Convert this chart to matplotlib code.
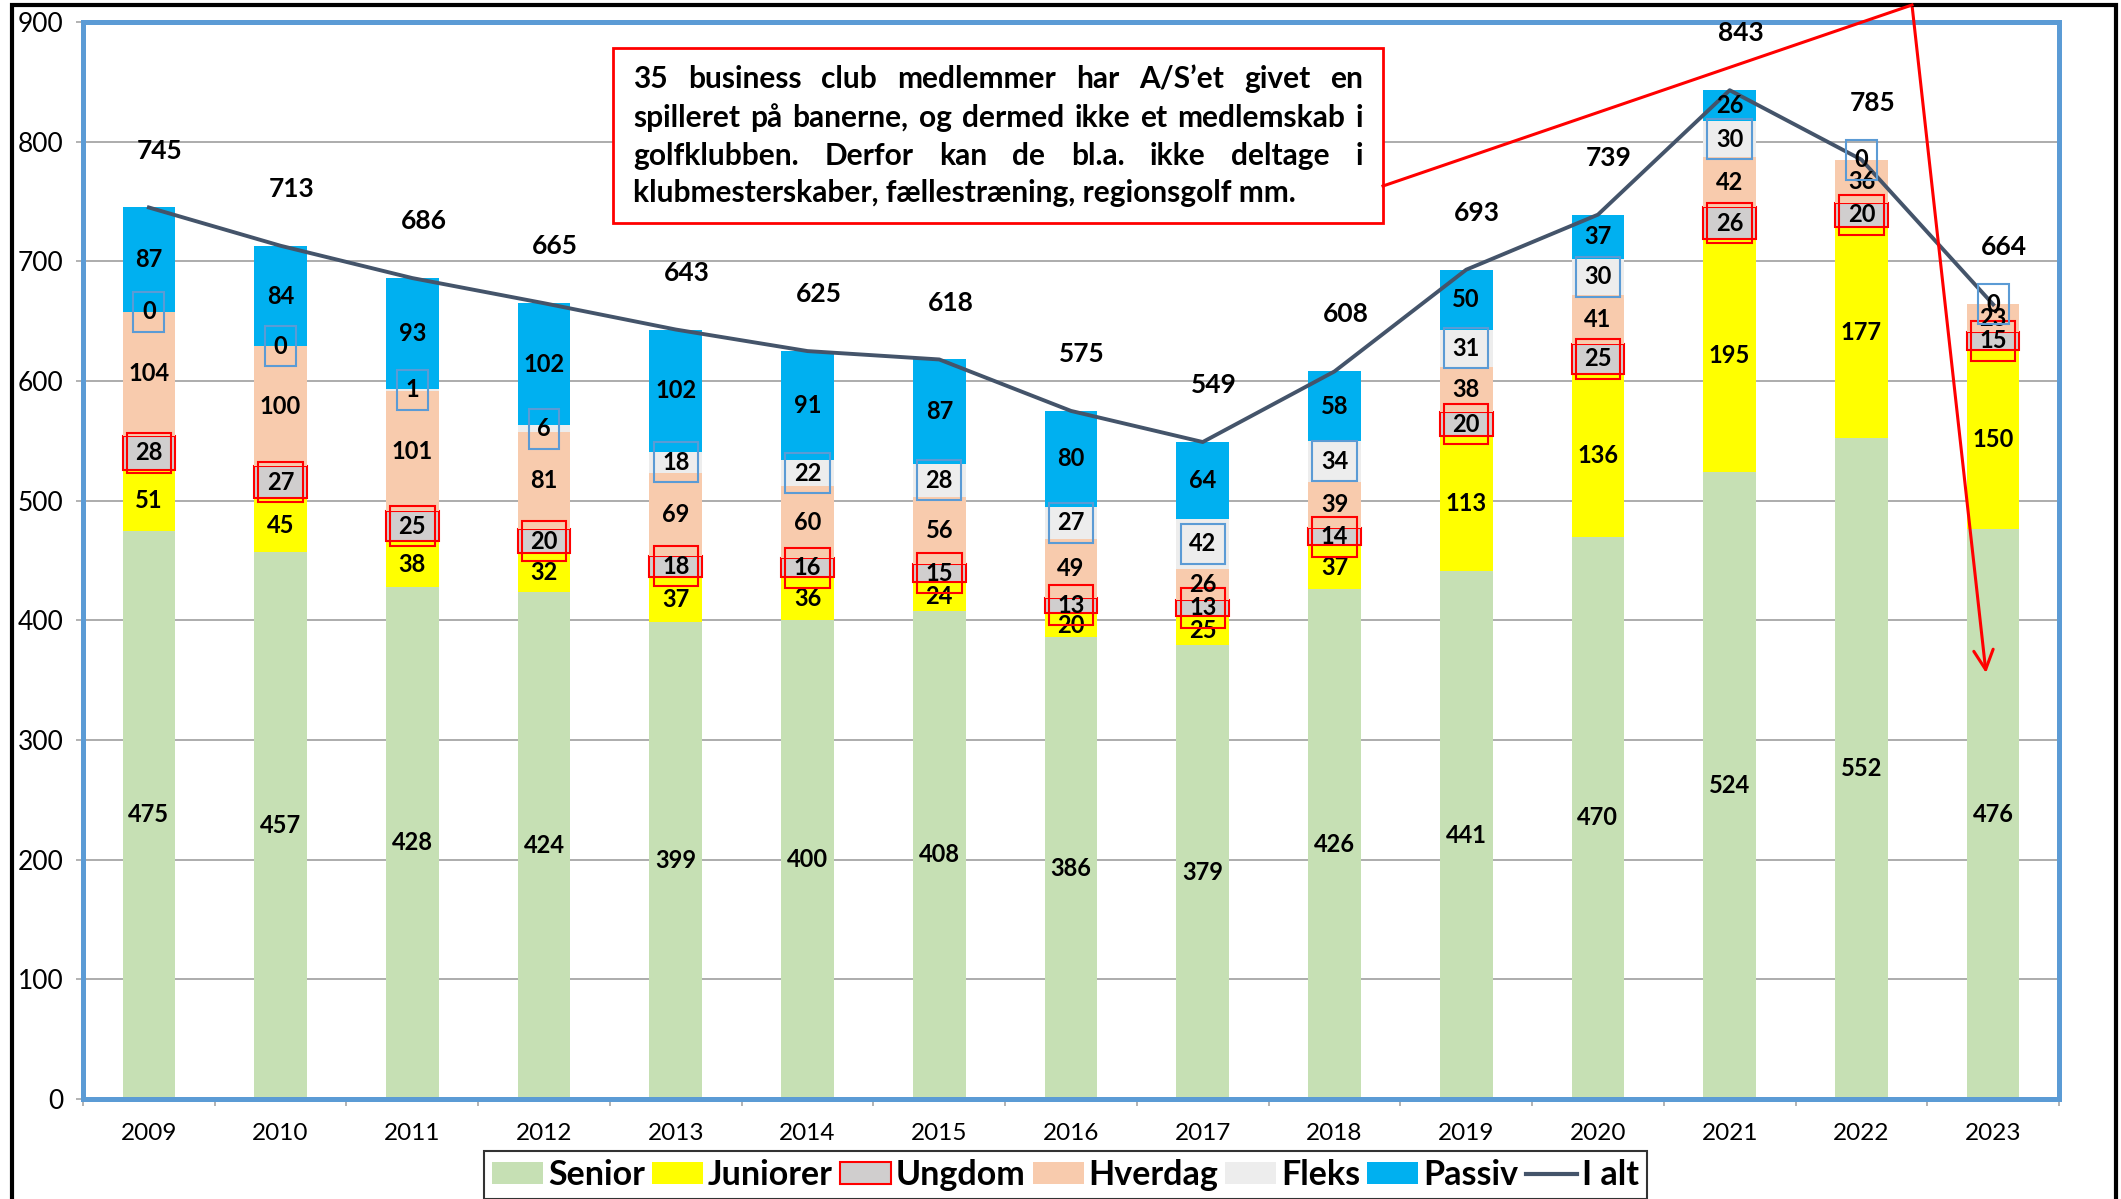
import numpy as np
import matplotlib.pyplot as plt
from matplotlib.patches import Rectangle, Patch
from matplotlib.lines import Line2D

years = ['2009', '2010', '2011', '2012', '2013', '2014', '2015', '2016',
         '2017', '2018', '2019', '2020', '2021', '2022', '2023']
senior = [475, 457, 428, 424, 399, 400, 408, 386, 379, 426, 441, 470, 524, 552, 476]
juniorer = [51, 45, 38, 32, 37, 36, 24, 20, 25, 37, 113, 136, 195, 177, 150]
ungdom = [28, 27, 25, 20, 18, 16, 15, 13, 13, 14, 20, 25, 26, 20, 15]
hverdag = [104, 100, 101, 81, 69, 60, 56, 49, 26, 39, 38, 41, 42, 36, 23]
fleks = [0, 0, 1, 6, 18, 22, 28, 27, 42, 34, 31, 30, 30, 0, 0]
passiv = [87, 84, 93, 102, 102, 91, 87, 80, 64, 58, 50, 37, 26, 0, 0]
i_alt = [745, 713, 686, 665, 643, 625, 618, 575, 549, 608, 693, 739, 843, 785, 664]

note_lines = [
    '35 business club medlemmer har A/S\u2019et givet en',
    'spilleret p\u00e5 banerne, og dermed ikke et medlemskab i',
    'golfklubben. Derfor kan de bl.a. ikke deltage i',
    'klubmesterskaber, f\u00e6llestr\u00e6ning, regionsgolf mm.',
]

plt.rcParams['font.family'] = ['Lato', 'DejaVu Sans']

W, H = 2121, 1199
fig = plt.figure(figsize=(W / 100, H / 100), dpi=100)
ax = fig.add_axes([83 / W, 1 - 1099 / H, (2059 - 83) / W, (1099 - 22) / H])

x = np.arange(len(years))
bw = 0.40
series = [
    ('Senior', senior, '#C6E0B4'),
    ('Juniorer', juniorer, '#FFFF00'),
    ('Ungdom', ungdom, '#D0CECE'),
    ('Hverdag', hverdag, '#F8CBAD'),
    ('Fleks', fleks, '#EDEDED'),
    ('Passiv', passiv, '#00B0F0'),
]

bottom = np.zeros(len(years))
for name, vals, col in series:
    vals = np.array(vals)
    if name == 'Ungdom':
        ax.bar(x, vals, bw, bottom=bottom, color=col, edgecolor='#FF0000', lw=1.5, zorder=2)
    else:
        ax.bar(x, vals, bw, bottom=bottom, color=col, zorder=2)
    for i, v in enumerate(vals):
        if name == 'Passiv' and v == 0:
            continue
        box = None
        if name == 'Ungdom':
            box = dict(boxstyle='square,pad=0.36', fc='none', ec='#FF0000', lw=1.5)
        elif name == 'Fleks':
            box = dict(boxstyle='square,pad=0.36', fc='none', ec='#5B9BD5', lw=1.5)
        ax.text(x[i], bottom[i] + v / 2, str(v), ha='center', va='center',
                fontsize=17, fontweight='bold', bbox=box, zorder=5)
    bottom += vals

ax.plot(x, i_alt, color='#44546A', lw=2.8, zorder=4)
for i, t in enumerate(i_alt):
    ax.annotate(str(t), (x[i], t), xytext=(8, 41), textcoords='offset points',
                ha='center', va='center', fontsize=19, fontweight='bold')

ax.set_xlim(-0.5, len(years) - 0.5)
ax.set_ylim(0, 900)
ax.set_yticks(range(0, 901, 100))
ax.yaxis.grid(True, color='#A6A6A6', lw=1.3)
ax.set_axisbelow(True)
ax.tick_params(axis='y', length=5, width=1.2, color='#A6A6A6', pad=9, labelsize=19)

ax.set_xticks(np.arange(-0.5, len(years), 1))
ax.set_xticklabels([])
ax.set_xticks(x, minor=True)
ax.set_xticklabels(years, minor=True)
ax.tick_params(axis='x', which='major', length=5, width=1.2, color='#A6A6A6')
ax.tick_params(axis='x', which='minor', length=0, pad=17, labelsize=17.5)

for s in ax.spines.values():
    s.set_color('#5B9BD5')
    s.set_linewidth(3.6)

# outer black frame
fig.add_artist(Rectangle((12 / W, -0.02), (2116 - 12) / W, 1.02 - 5 / H,
                         transform=fig.transFigure, fill=False, ec='black', lw=3))

# note box with justified text
fig.add_artist(Rectangle((613 / W, 1 - 223 / H), 770 / W, 175 / H,
                         transform=fig.transFigure, fc='white', ec='#FF0000', lw=2, zorder=2))

r = fig.canvas.get_renderer()
left, right = 633, 1363
baselines = [88, 127, 165, 202]
for k, line in enumerate(note_lines):
    y = 1 - baselines[k] / H
    if k == len(note_lines) - 1:
        fig.text(left / W, y, line, va='baseline', fontsize=21.5, fontweight='bold', zorder=3)
        continue
    words = line.split()
    ts = [fig.text(0, y, w, va='baseline', fontsize=21.5, fontweight='bold', zorder=3) for w in words]
    ws = [t.get_window_extent(r).width for t in ts]
    gap = (right - left - sum(ws)) / (len(words) - 1)
    pos = left
    for t, w in zip(ts, ws):
        t.set_x(pos / W)
        pos += w + gap

# red arrow
fig.add_artist(Line2D([1383 / W, 1912 / W], [1 - 186 / H, 1 - 5 / H],
                      transform=fig.transFigure, color='#FF0000', lw=2.2, zorder=3))
ax.annotate('', xy=(1986 / W, 1 - 673 / H), xycoords='figure fraction',
            xytext=(1912 / W, 1 - 5 / H), textcoords='figure fraction',
            arrowprops=dict(arrowstyle='->', color='#FF0000', lw=2.2,
                            mutation_scale=35, shrinkA=0, shrinkB=0),
            annotation_clip=False, zorder=6)

handles = [Patch(fc=c, ec='#FF0000' if n == 'Ungdom' else 'none', lw=1.5) for n, v, c in series]
handles.append(Line2D([], [], color='#44546A', lw=3))
labels = [n for n, v, c in series] + ['I alt']
leg = fig.legend(handles, labels, loc='upper left', bbox_to_anchor=(484 / W, 1 - 1151 / H),
                 ncol=7, frameon=True, fancybox=False, edgecolor='black',
                 prop=dict(weight='bold', size=24.5), handlelength=1.5, handleheight=0.6,
                 handletextpad=0.15, columnspacing=0.2, borderpad=0.24, borderaxespad=0)
leg.get_frame().set_linewidth(1.5)

plt.savefig('out.png', dpi=100)
